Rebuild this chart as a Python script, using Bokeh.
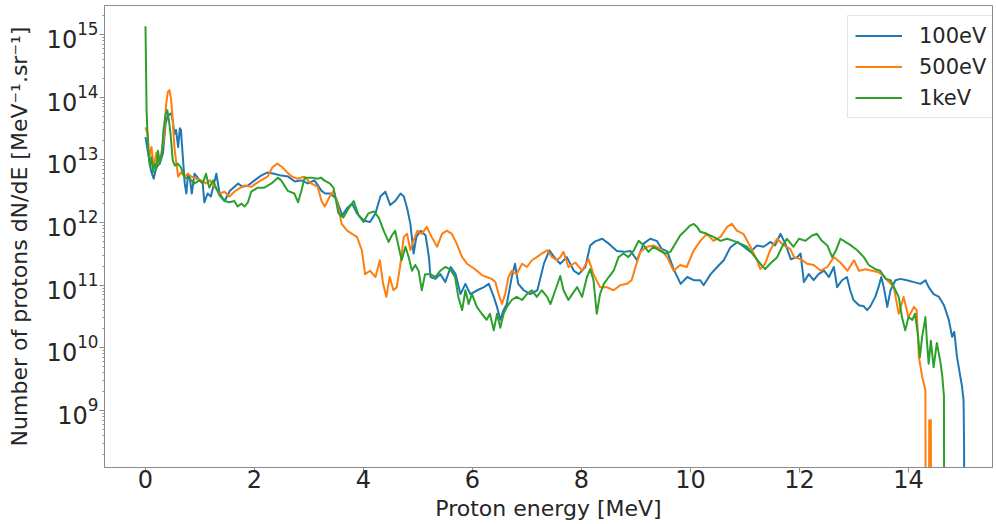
from bokeh.plotting import figure
from bokeh.models import Range1d, FixedTicker, Legend, LegendItem
from bokeh.embed import file_html
from bokeh.resources import INLINE

# ---------------- data ----------------
series_labels = ["100eV", "500eV", "1keV"]
series_colors = ["#1f77b4", "#ff7f0e", "#2ca02c"]

energy_100eV = [0.00, 0.03, 0.07, 0.10, 0.15, 0.20, 0.26, 0.32, 0.37, 0.41,
                0.47, 0.50, 0.53, 0.56, 0.60, 0.63, 0.65, 0.69, 0.72, 0.75,
                0.78, 0.81, 0.85, 0.90, 0.97, 1.05, 1.08, 1.14, 1.20, 1.30,
                1.36, 1.45, 1.55, 1.70, 1.78, 1.88, 2.00, 2.12, 2.24, 2.36,
                2.49, 2.62, 2.74, 2.86, 2.98, 3.10, 3.23, 3.30, 3.39, 3.50,
                3.61, 3.70, 3.79, 3.88, 4.01, 4.12, 4.22, 4.31, 4.40, 4.49,
                4.58, 4.68, 4.74, 4.80, 4.86, 4.92, 4.97, 5.05, 5.14, 5.20,
                5.23, 5.32, 5.41, 5.50, 5.60, 5.69, 5.78, 5.87, 5.96, 6.09,
                6.21, 6.30, 6.39, 6.45, 6.51, 6.57, 6.63, 6.72, 6.78, 6.84,
                6.94, 7.06, 7.19, 7.31, 7.41, 7.50, 7.61, 7.73, 7.86, 7.95,
                8.07, 8.16, 8.25, 8.38, 8.50, 8.65, 8.78, 8.90, 9.02, 9.14,
                9.26, 9.38, 9.47, 9.57, 9.69, 9.82, 9.94, 10.06, 10.18, 10.24,
                10.37, 10.49, 10.61, 10.73, 10.86, 10.98, 11.10, 11.22, 11.34, 11.47,
                11.55, 11.65, 11.74, 11.84, 11.96, 12.02, 12.08, 12.17, 12.26, 12.35,
                12.45, 12.54, 12.63, 12.69, 12.78, 12.87, 12.93, 12.99, 13.09, 13.18,
                13.24, 13.30, 13.39, 13.45, 13.50, 13.55, 13.61, 13.67, 13.76, 13.85,
                13.97, 14.10, 14.22, 14.31, 14.37, 14.46, 14.56, 14.65, 14.74, 14.80,
                14.84, 14.89, 14.95, 14.98, 15.01, 15.02, 15.03]
counts_100eV = [2.3e13, 1.6e13, 9.8e12, 6.8e12, 5.0e12, 7.6e12, 8.7e12, 1.26e13, 3.8e13, 5.1e13,
                5.5e13, 4.3e13, 2.6e13, 3.0e13, 1.6e13, 3.2e13, 3.0e13, 9.8e12, 4.2e12, 2.9e12,
                6.0e12, 5.4e12, 2.9e12, 6.0e12, 5.0e12, 4.2e12, 2.1e12, 2.9e12, 2.6e12, 6.0e12,
                2.9e12, 2.2e12, 3.2e12, 4.2e12, 3.7e12, 3.9e12, 4.7e12, 5.6e12, 6.3e12, 6.0e12,
                5.6e12, 5.4e12, 4.5e12, 4.7e12, 4.2e12, 4.7e12, 3.2e12, 2.9e12, 2.9e12, 2.4e12,
                1.3e12, 1.7e12, 2.0e12, 1.4e12, 1.07e12, 1.02e12, 1.4e12, 2.6e12, 3.1e12, 1.9e12,
                2.2e12, 2.9e12, 2.6e12, 1.7e12, 9.5e11, 3.2e11, 5.9e11, 7.4e11, 6.2e11, 2.8e11,
                1.35e11, 1.26e11, 1.5e11, 1.12e11, 1.95e11, 1.5e11, 7.2e10, 1.05e11, 7.2e10, 8.3e10,
                9.3e10, 1.05e11, 6.5e10, 4.5e10, 2.8e10, 4.0e10, 5.0e10, 1.35e11, 2.2e11, 1.05e11,
                8.3e10, 7.2e10, 8.3e10, 2.2e11, 3.6e11, 2.8e11, 2.2e11, 2.8e11, 1.7e11, 1.5e11,
                1.95e11, 4.3e11, 5.0e11, 5.5e11, 4.6e11, 3.5e11, 3.4e11, 3.5e11, 2.5e11, 4.6e11,
                5.5e11, 5.1e11, 3.8e11, 3.5e11, 1.8e11, 1.05e11, 1.35e11, 1.2e11, 1.2e11, 1.0e11,
                1.5e11, 1.95e11, 2.5e11, 4.0e11, 4.9e11, 4.1e11, 3.4e11, 4.3e11, 4.1e11, 4.9e11,
                4.3e11, 6.6e11, 4.6e11, 2.6e11, 2.8e11, 3.2e11, 1.12e11, 1.5e11, 1.2e11, 1.5e11,
                1.7e11, 1.35e11, 1.95e11, 9.3e10, 1.2e11, 1.35e11, 8.3e10, 5.8e10, 4.8e10, 4.6e10,
                4.0e10, 4.6e10, 6.5e10, 9.3e10, 1.35e11, 8.9e10, 4.5e10, 8.3e10, 1.2e11, 1.26e11,
                1.2e11, 1.12e11, 1.05e11, 1.2e11, 9.3e10, 7.2e10, 6.5e10, 4.8e10, 2.8e10, 1.5e10,
                1.8e10, 7.1e9, 3.5e9, 2.5e9, 1.45e9, 2.6e8, 0]

energy_500eV = [0.00, 0.04, 0.07, 0.11, 0.15, 0.20, 0.24, 0.29, 0.34, 0.38,
                0.41, 0.44, 0.47, 0.50, 0.53, 0.56, 0.60, 0.65, 0.72, 0.78,
                0.84, 0.93, 1.02, 1.11, 1.18, 1.27, 1.36, 1.45, 1.54, 1.63,
                1.72, 1.82, 1.94, 2.03, 2.12, 2.24, 2.33, 2.42, 2.51, 2.60,
                2.69, 2.79, 2.91, 3.04, 3.16, 3.23, 3.29, 3.38, 3.45, 3.51,
                3.60, 3.70, 3.79, 3.88, 3.97, 4.03, 4.12, 4.22, 4.30, 4.36,
                4.42, 4.48, 4.55, 4.61, 4.67, 4.74, 4.80, 4.86, 4.92, 4.99,
                5.07, 5.16, 5.25, 5.35, 5.44, 5.53, 5.62, 5.71, 5.81, 5.90,
                5.99, 6.08, 6.17, 6.26, 6.35, 6.42, 6.48, 6.54, 6.60, 6.66,
                6.72, 6.81, 6.91, 7.00, 7.09, 7.18, 7.27, 7.37, 7.46, 7.55,
                7.61, 7.67, 7.76, 7.89, 8.01, 8.13, 8.22, 8.34, 8.46, 8.59,
                8.71, 8.83, 8.92, 8.99, 9.08, 9.20, 9.32, 9.45, 9.57, 9.69,
                9.81, 9.93, 10.06, 10.18, 10.30, 10.42, 10.55, 10.67, 10.76, 10.85,
                10.97, 11.10, 11.22, 11.28, 11.37, 11.46, 11.59, 11.71, 11.83, 11.90,
                12.02, 12.14, 12.26, 12.39, 12.51, 12.63, 12.75, 12.88, 13.00, 13.09,
                13.21, 13.33, 13.45, 13.55, 13.61, 13.73, 13.82, 13.91, 14.00, 14.10,
                14.15, 14.19, 14.25, 14.31, 14.33, 14.36, 14.38, 14.41, 14.42]
counts_500eV = [3.3e13, 2.6e13, 1.1e13, 1.6e13, 7.6e12, 1.3e13, 8.7e12, 1.26e13, 2.3e13, 7.8e13,
                1.2e14, 1.3e14, 9.3e13, 4.3e13, 1.6e13, 9.8e12, 5.4e12, 6.3e12, 5.4e12, 6.0e12,
                5.4e12, 5.0e12, 4.7e12, 4.2e12, 4.7e12, 3.7e12, 2.9e12, 3.1e12, 2.6e12, 3.1e12,
                3.5e12, 3.9e12, 3.7e12, 4.2e12, 4.7e12, 5.4e12, 7.6e12, 8.7e12, 7.6e12, 6.3e12,
                5.4e12, 5.0e12, 5.4e12, 4.2e12, 3.7e12, 2.2e12, 1.8e12, 2.6e12, 3.2e12, 2.2e12,
                9.5e11, 7.4e11, 6.6e11, 5.9e11, 3.6e11, 1.5e11, 1.7e11, 1.35e11, 2.5e11, 1.05e11,
                6.5e10, 1.35e11, 8.3e10, 9.3e10, 1.95e11, 5.9e11, 6.6e11, 3.6e11, 5.2e11, 7.4e11,
                6.6e11, 8.5e11, 5.9e11, 4.1e11, 6.6e11, 7.4e11, 6.6e11, 4.6e11, 2.8e11, 2.2e11,
                1.95e11, 1.7e11, 1.45e11, 1.35e11, 1.26e11, 1.12e11, 7.2e10, 5.0e10, 7.2e10, 1.35e11,
                1.7e11, 1.5e11, 2.2e11, 1.95e11, 2.5e11, 2.8e11, 3.2e11, 3.6e11, 2.8e11, 2.5e11,
                2.8e11, 3.4e11, 1.95e11, 2.3e11, 1.7e11, 2.6e11, 1.5e11, 9.3e10, 9.3e10, 8.3e10,
                1.0e11, 1.05e11, 1.2e11, 1.95e11, 3.4e11, 4.1e11, 4.3e11, 3.8e11, 2.8e11, 1.7e11,
                2.1e11, 1.95e11, 3.6e11, 5.1e11, 6.6e11, 5.1e11, 5.9e11, 8.5e11, 9.5e11, 7.4e11,
                6.6e11, 4.1e11, 2.5e11, 1.8e11, 2.2e11, 3.6e11, 5.5e11, 4.3e11, 3.8e11, 2.8e11,
                2.6e11, 2.2e11, 2.1e11, 1.7e11, 1.95e11, 2.8e11, 2.3e11, 1.7e11, 2.5e11, 1.7e11,
                1.8e11, 1.7e11, 1.6e11, 1.4e11, 1.2e11, 9.3e10, 3.5e10, 6.5e10, 3.1e10, 4.5e10,
                4.0e10, 7.1e9, 3.5e9, 2.1e9, 0, 0, 7.0e8, 7.0e8, 0]

energy_1keV = [0.00, 0.02, 0.05, 0.08, 0.11, 0.14, 0.17, 0.20, 0.23, 0.26,
               0.30, 0.33, 0.37, 0.40, 0.43, 0.46, 0.50, 0.54, 0.59, 0.65,
               0.72, 0.81, 0.90, 0.99, 1.05, 1.11, 1.17, 1.24, 1.30, 1.36,
               1.45, 1.54, 1.63, 1.69, 1.76, 1.82, 1.88, 1.94, 2.06, 2.18,
               2.31, 2.43, 2.49, 2.61, 2.73, 2.80, 2.86, 2.92, 3.04, 3.16,
               3.22, 3.28, 3.38, 3.45, 3.54, 3.63, 3.73, 3.82, 3.91, 4.00,
               4.09, 4.19, 4.28, 4.37, 4.46, 4.52, 4.58, 4.64, 4.70, 4.77,
               4.83, 4.89, 4.95, 5.01, 5.07, 5.13, 5.22, 5.32, 5.41, 5.50,
               5.59, 5.68, 5.74, 5.81, 5.87, 5.93, 5.99, 6.08, 6.17, 6.26,
               6.32, 6.39, 6.45, 6.51, 6.57, 6.63, 6.72, 6.81, 6.91, 7.00,
               7.09, 7.18, 7.27, 7.37, 7.43, 7.52, 7.61, 7.67, 7.76, 7.83,
               7.92, 8.01, 8.10, 8.16, 8.22, 8.28, 8.34, 8.41, 8.50, 8.59,
               8.68, 8.77, 8.86, 8.96, 9.05, 9.14, 9.23, 9.32, 9.45, 9.54,
               9.63, 9.72, 9.81, 9.90, 9.99, 10.06, 10.12, 10.18, 10.30, 10.42,
               10.55, 10.67, 10.79, 10.91, 11.04, 11.16, 11.28, 11.37, 11.46, 11.59,
               11.68, 11.77, 11.89, 11.99, 12.11, 12.23, 12.32, 12.41, 12.51, 12.60,
               12.67, 12.75, 12.84, 12.93, 13.06, 13.18, 13.27, 13.39, 13.48, 13.58,
               13.67, 13.76, 13.82, 13.88, 13.94, 14.00, 14.07, 14.12, 14.17, 14.21,
               14.25, 14.31, 14.34, 14.37, 14.41, 14.46, 14.52, 14.59, 14.62, 14.65,
               14.67]
counts_1keV = [1.35e15, 6.2e13, 1.4e13, 8.1e12, 1.1e13, 6.3e12, 8.7e12, 7.2e12, 1.4e13, 8.7e12,
               1.26e13, 3.0e13, 5.4e13, 6.2e13, 4.3e13, 2.6e13, 9.8e12, 8.1e12, 8.7e12, 7.6e12,
               5.2e12, 5.0e12, 4.2e12, 4.7e12, 4.2e12, 6.0e12, 3.6e12, 4.7e12, 3.5e12, 2.7e12,
               2.2e12, 2.1e12, 2.2e12, 1.8e12, 2.0e12, 1.8e12, 2.1e12, 3.1e12, 3.6e12, 3.6e12,
               4.2e12, 5.2e12, 4.7e12, 3.2e12, 2.9e12, 2.1e12, 3.2e12, 5.2e12, 5.2e12, 5.0e12,
               5.2e12, 4.7e12, 4.2e12, 3.6e12, 1.4e12, 1.2e12, 1.7e12, 2.2e12, 1.3e12, 1.02e12,
               1.4e12, 1.5e12, 1.2e12, 7.4e11, 4.9e11, 6.2e11, 7.4e11, 4.3e11, 2.5e11, 4.1e11,
               2.8e11, 1.7e11, 2.1e11, 1.7e11, 8.3e10, 1.5e11, 1.5e11, 1.35e11, 1.7e11, 1.95e11,
               1.8e11, 1.35e11, 6.5e10, 4.0e10, 8.3e10, 5.0e10, 7.2e10, 4.5e10, 3.5e10, 2.8e10,
               3.5e10, 1.9e10, 3.5e10, 2.1e10, 3.5e10, 4.5e10, 5.8e10, 6.5e10, 5.8e10, 7.2e10,
               8.3e10, 6.5e10, 8.3e10, 6.5e10, 5.0e10, 8.3e10, 1.4e11, 8.3e10, 5.8e10, 7.2e10,
               9.3e10, 6.5e10, 1.35e11, 1.8e11, 1.2e11, 3.5e10, 7.2e10, 1.05e11, 1.35e11, 1.7e11,
               2.8e11, 3.2e11, 2.8e11, 3.6e11, 5.1e11, 4.3e11, 3.4e11, 4.1e11, 3.5e11, 3.2e11,
               3.4e11, 4.6e11, 6.2e11, 7.4e11, 8.9e11, 9.5e11, 8.5e11, 7.1e11, 6.6e11, 5.9e11,
               5.1e11, 5.5e11, 5.1e11, 4.6e11, 4.1e11, 3.0e11, 2.2e11, 1.8e11, 2.2e11, 2.8e11,
               4.1e11, 5.5e11, 4.1e11, 5.5e11, 5.1e11, 6.2e11, 6.6e11, 5.1e11, 4.3e11, 2.8e11,
               3.6e11, 5.5e11, 4.9e11, 4.4e11, 3.6e11, 2.8e11, 2.1e11, 1.8e11, 1.7e11, 1.26e11,
               1.2e11, 8.3e10, 6.5e10, 3.1e10, 1.9e10, 3.1e10, 2.8e10, 3.5e10, 1.7e10, 7.1e9,
               1.5e10, 3.1e10, 1.2e10, 5.6e9, 1.3e10, 4.9e9, 1.2e10, 5.6e9, 3.5e9, 1.7e9,
               0]

x_ticks = [0, 2, 4, 6, 8, 10, 12, 14]
y_ticks = [1e9, 1e10, 1e11, 1e12, 1e13, 1e14, 1e15]

# zero counts are drawn at a floor far below the axis (like matplotlib's log clipping)
FLOOR = 1.0


def shown(values):
    return [v if v > 0 else FLOOR for v in values]


y_minor = [m * 10.0 ** e for e in range(8, 16) for m in range(2, 10)]

FONT = "DejaVu Sans"
TEXT = "#262626"
SPINE = "#8c8c8c"

p = figure(width=996, height=524, y_axis_type="log",
           x_range=Range1d(-0.752, 15.541), y_range=Range1d(1.233e8, 2.90e15),
           output_backend="svg", toolbar_location=None,
           min_border_left=104, min_border_right=4, min_border_top=5, min_border_bottom=57)

p.xgrid.visible = False
p.ygrid.visible = False
p.outline_line_color = SPINE
p.outline_line_width = 1
p.background_fill_color = "white"
p.border_fill_color = "white"

renderers = []
for xs, ys, color in [(energy_100eV, counts_100eV, series_colors[0]),
                      (energy_500eV, counts_500eV, series_colors[1]),
                      (energy_1keV, counts_1keV, series_colors[2])]:
    r = p.line(xs, shown(ys), line_color=color, line_width=2, line_join="round")
    renderers.append(r)

# axes
p.xaxis.ticker = FixedTicker(ticks=x_ticks)
p.yaxis.ticker = FixedTicker(ticks=y_ticks, minor_ticks=y_minor)
for ax in (p.xaxis[0], p.yaxis[0]):
    ax.axis_line_color = SPINE
    ax.major_tick_line_color = SPINE
    ax.minor_tick_line_color = SPINE
    ax.major_tick_in = 0
    ax.major_tick_out = 5
    ax.minor_tick_in = 0
    ax.minor_tick_out = 2
    ax.major_label_text_font = FONT
    ax.major_label_text_color = TEXT
    ax.major_label_text_font_size = "24px"
    ax.axis_label_text_font = FONT
    ax.axis_label_text_color = TEXT
    ax.axis_label_text_font_size = "22px"
    ax.axis_label_text_font_style = "normal"

p.xaxis.major_label_standoff = -3
p.xaxis.axis_label_standoff = 5
p.yaxis.major_label_standoff = 1
p.yaxis.axis_label_standoff = 12
p.xaxis.axis_label = "Proton energy [MeV]"
p.yaxis.axis_label = "Number of protons dN/dE [MeV\u207b\u00b9.sr\u207b\u00b9]"

legend = Legend(items=[LegendItem(label=lab, renderers=[r])
                       for lab, r in zip(series_labels, renderers)],
                location=(743, 349), margin=0, padding=7, spacing=6,
                glyph_width=47, glyph_height=25, label_standoff=17,
                label_text_font=FONT, label_text_font_size="21px", label_text_color=TEXT,
                border_line_color="#cccccc", border_line_width=1,
                background_fill_color="white", background_fill_alpha=0.85)
p.add_layout(legend)

open("out.html", "w").write(file_html(p, INLINE))
